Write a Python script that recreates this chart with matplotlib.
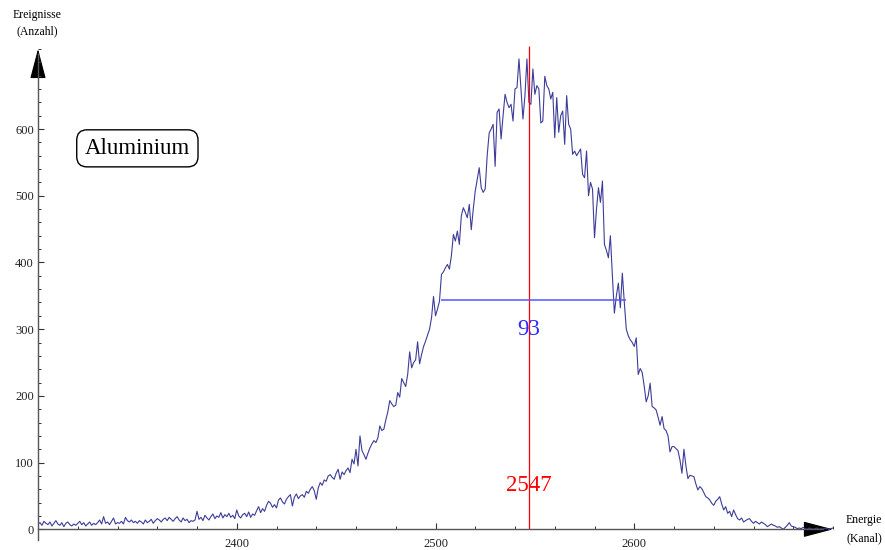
import numpy as np
import matplotlib
matplotlib.use('Agg')
import matplotlib.pyplot as plt
from matplotlib.ticker import MultipleLocator
from matplotlib.patches import FancyArrowPatch

# Spectrum data: counts per channel, starting at channel 2300
start_channel = 2300
counts = [
    8, 10, 6, 12, 9, 7, 11, 5, 9, 13, 8, 6, 10, 4, 9, 11, 7, 5, 8, 6,
    9, 12, 7, 10, 5, 8, 11, 6, 9, 7, 10, 14, 8, 19, 9, 11, 7, 12, 17, 8,
    10, 9, 12, 8, 18, 13, 11, 14, 10, 12, 9, 13, 11, 8, 14, 10, 12, 15, 9, 13,
    16, 14, 11, 15, 17, 13, 18, 15, 12, 16, 19, 14, 11, 17, 13, 15, 10, 13, 12, 14,
    27, 15, 18, 13, 21, 17, 14, 19, 23, 16, 20, 18, 25, 17, 22, 19, 24, 18, 21, 16,
    29, 20, 17, 22, 24, 19, 26, 18, 23, 21, 28, 34, 25, 31, 27, 36, 42, 39, 33, 37,
    32, 44, 47, 41, 38, 45, 49, 52, 35, 48, 53, 46, 50, 52, 48, 57, 54, 60, 64, 58,
    45, 62, 70, 66, 74, 72, 80, 82, 78, 75, 84, 90, 75, 86, 82, 88, 92, 85, 105, 98,
    120, 95, 140, 118, 112, 105, 114, 122, 128, 133, 130, 137, 155, 148, 150, 164, 176, 193, 188, 184,
    186, 205, 198, 226, 220, 214, 232, 266, 242, 250, 254, 281, 248, 262, 274, 282, 291, 300, 317, 349,
    320, 330, 342, 382, 386, 392, 397, 390, 410, 442, 432, 447, 427, 470, 482, 475, 467, 487, 449, 480,
    507, 525, 542, 512, 505, 510, 560, 594, 600, 607, 544, 625, 630, 585, 620, 652, 640, 632, 637, 612,
    660, 662, 705, 660, 615, 650, 705, 640, 637, 690, 652, 665, 660, 609, 612, 679, 665, 660, 645, 655,
    587, 647, 595, 620, 627, 577, 650, 607, 600, 562, 567, 560, 565, 570, 532, 527, 567, 500, 520, 510,
    437, 480, 512, 490, 522, 427, 418, 407, 440, 380, 324, 350, 369, 332, 384, 340, 300, 290, 284, 280,
    274, 287, 232, 241, 235, 215, 191, 200, 219, 184, 182, 179, 168, 156, 169, 151, 148, 140, 116, 124,
    124, 121, 118, 104, 84, 120, 95, 76, 81, 80, 79, 68, 59, 64, 61, 55, 49, 47, 44, 39,
    36, 42, 45, 49, 38, 29, 34, 24, 27, 19, 29, 22, 16, 14, 17, 11, 13, 15, 16, 12,
    9, 12, 10, 8, 11, 9, 7, 4, 6, 8, 6, 5, 3, 4, 2, 0, 3, 6, 10, 5,
    4, 3, 1, 2, 1, 3, 1, 0, 2, 1, 0, 1, 2, 0, 1, 0, 2, 1, 0, 1,
    2,
]
channels = np.arange(start_channel, start_channel + len(counts))

# Peak analysis results
peak_channel = 2547
fwhm = 93
half_max = 344
fwhm_left = 2503
fwhm_right = fwhm_left + fwhm

x_ticks = [2400, 2500, 2600]
y_ticks = [0, 100, 200, 300, 400, 500, 600]
x_min, x_max = 2300, 2700
y_min, y_max = -16, 725

plt.rcParams['font.family'] = ['Liberation Serif', 'DejaVu Serif']

fig = plt.figure(figsize=(8.85, 5.5), dpi=100)
ax = fig.add_axes([38 / 885, 10 / 550, 795 / 885, 494.4 / 550])

# Spectrum
ax.plot(channels, counts, color='#3d3d99', lw=0.8)

# Peak marker and FWHM
ax.vlines(peak_channel, 0, y_max, color='#ff0000', lw=0.9)
ax.hlines(half_max, fwhm_left, fwhm_right, color='#5555ff', lw=1.1)
ax.text(peak_channel, 299, str(fwhm), color='#2a2aff', fontsize=16.5,
        ha='center', va='center')
ax.text(peak_channel, 66, str(peak_channel), color='#ff0000', fontsize=16.5,
        ha='center', va='center')

# Label box
ax.text(2350, 571, 'Aluminium', fontsize=16.5, ha='center', va='center',
        bbox=dict(boxstyle='round,pad=0.35,rounding_size=0.45',
                  fc='white', ec='black', lw=1.0))

ax.set_xlim(x_min, x_max)
ax.set_ylim(y_min, y_max)

# Mathematica-like axes crossing at (2300, 0)
for side in ['top', 'right']:
    ax.spines[side].set_visible(False)
ax.spines['bottom'].set_position(('data', 0))
ax.spines['left'].set_position(('data', x_min))
ax.spines['bottom'].set_bounds(x_min, x_max - 5)
ax.spines['left'].set_bounds(y_min, 712)
for side in ['bottom', 'left']:
    ax.spines[side].set_color('#555555')
    ax.spines[side].set_linewidth(1.0)

ax.set_xticks(x_ticks)
ax.set_yticks(y_ticks)
ax.xaxis.set_minor_locator(MultipleLocator(20))
ax.yaxis.set_minor_locator(MultipleLocator(20))
ax.tick_params(which='major', direction='in', length=4, width=0.8,
               color='#333333', labelsize=9, labelcolor='#222222', pad=3)
ax.tick_params(which='minor', direction='in', length=2.5, width=0.7,
               color='#333333')
ax.tick_params(axis='x', pad=6)

# Arrow heads
ax.add_patch(FancyArrowPatch((x_max - 12, 0), (x_max, 0),
                             arrowstyle='-|>,head_length=1.9,head_width=0.5',
                             mutation_scale=10, color='black', lw=0.8,
                             clip_on=False, shrinkA=0, shrinkB=0))
ax.add_patch(FancyArrowPatch((x_min, 700), (x_min, 720),
                             arrowstyle='-|>,head_length=1.9,head_width=0.5',
                             mutation_scale=10, color='black', lw=0.8,
                             clip_on=False, shrinkA=0, shrinkB=0))

# Axis labels
fig.text(37 / 885, 1 - 15 / 550, 'Ereignisse', fontsize=8.5, ha='center', va='center')
fig.text(37 / 885, 1 - 31 / 550, '(Anzahl)', fontsize=8.5, ha='center', va='center')
fig.text(864 / 885, 1 - 520 / 550, 'Energie', fontsize=8.5, ha='center', va='center')
fig.text(864 / 885, 1 - 538 / 550, '(Kanal)', fontsize=8.5, ha='center', va='center')

fig.savefig('out.png', dpi=100)
